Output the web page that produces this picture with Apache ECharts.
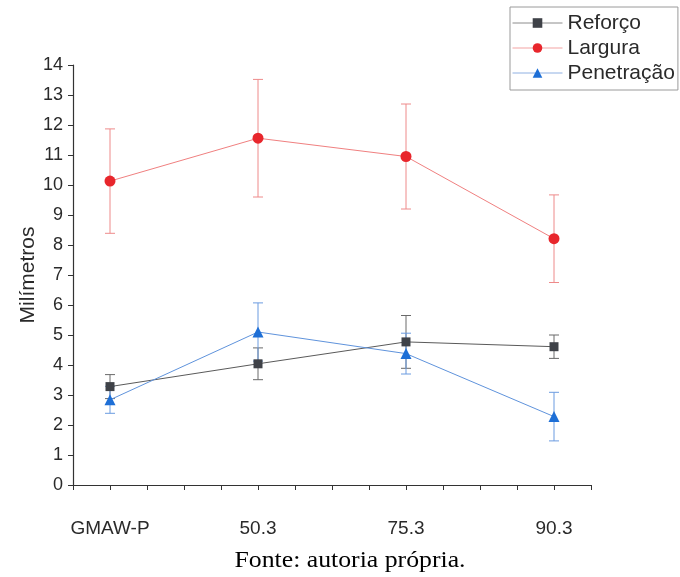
<!DOCTYPE html>
<html>
<head>
<meta charset="utf-8">
<script src="https://cdn.jsdelivr.net/npm/echarts@6/dist/echarts.min.js"></script>
<style>
  html, body { margin: 0; padding: 0; background: #fff; }
  #chart { width: 680px; height: 577px; }
</style>
</head>
<body>
<div id="chart"></div>
<script>
// Process conditions along the x axis
const categories = ['GMAW-P', '50.3', '75.3', '90.3'];

// Bead geometry in millimetres (mean values and standard deviations)
const reforco = [3.28, 4.04, 4.77, 4.61];
const reforcoErr = [0.40, 0.53, 0.88, 0.39];
const largura = [10.13, 11.56, 10.95, 8.21];
const larguraErr = [1.74, 1.96, 1.75, 1.46];
const penetracao = [2.84, 5.10, 4.38, 2.28];
const penetracaoErr = [0.45, 0.97, 0.68, 0.81];

const yTicks = [0, 14, 1]; // min, max, step

// Each category sits on an odd position of a 0..14 value axis
const xPos = categories.map((c, i) => 1 + 4 * i);

const FONT = '"Liberation Sans", Arial, sans-serif';

function pts(vals) {
  return vals.map((v, i) => [xPos[i], v]);
}
function bars(vals, errs) {
  return vals.map((v, i) => [xPos[i], v - errs[i], v + errs[i]]);
}
function errorSeries(vals, errs, color) {
  return {
    type: 'custom',
    silent: true,
    z: 1,
    data: bars(vals, errs),
    encode: { x: 0, y: [1, 2] },
    renderItem: function (params, api) {
      const x = api.value(0);
      const top = api.coord([x, api.value(2)]);
      const bot = api.coord([x, api.value(1)]);
      const w = 5;
      const st = { stroke: color, lineWidth: 1 };
      return {
        type: 'group',
        children: [
          { type: 'line', shape: { x1: top[0], y1: top[1], x2: bot[0], y2: bot[1] }, style: st },
          { type: 'line', shape: { x1: top[0] - w, y1: top[1], x2: top[0] + w, y2: top[1] }, style: st },
          { type: 'line', shape: { x1: bot[0] - w, y1: bot[1], x2: bot[0] + w, y2: bot[1] }, style: st }
        ]
      };
    }
  };
}
function lineSeries(name, vals, symbol, size, markColor, lineColor) {
  return {
    name: name,
    type: 'line',
    z: 3,
    data: pts(vals),
    symbol: symbol,
    symbolSize: size,
    itemStyle: { color: markColor, borderWidth: 0 },
    lineStyle: { color: lineColor, width: 1 },
    emphasis: { disabled: true }
  };
}

const chart = echarts.init(document.getElementById('chart'), null, { renderer: 'canvas' });
chart.setOption({
  animation: false,
  backgroundColor: '#ffffff',
  grid: { left: 73, right: 89, top: 65, bottom: 92 },
  legend: {
    orient: 'vertical',
    left: 510,
    top: 7,
    padding: [5, 3, 6, 2],
    itemWidth: 50,
    itemHeight: 12,
    itemGap: 3,
    borderColor: '#9a9a9a',
    borderWidth: 1,
    data: [
      { name: 'Reforço', lineStyle: { color: '#8c8c8c', width: 1 } },
      { name: 'Largura', lineStyle: { color: '#f3a3a3', width: 1 } },
      { name: 'Penetração', lineStyle: { color: '#8fb0e2', width: 1 } }
    ],
    textStyle: { fontFamily: FONT, fontSize: 21, color: '#2a2a2a', lineHeight: 22 }
  },
  xAxis: {
    type: 'value',
    min: 0,
    max: 14,
    interval: 1,
    splitLine: { show: false },
    axisLine: { onZero: false, lineStyle: { color: '#333', width: 1.2 } },
    axisTick: { inside: false, length: 5, lineStyle: { color: '#333' } },
    axisLabel: {
      margin: 34,
      fontFamily: FONT,
      fontSize: 19,
      color: '#2a2a2a',
      formatter: function (v) {
        const i = xPos.indexOf(v);
        return i >= 0 ? categories[i] : '';
      }
    }
  },
  yAxis: {
    type: 'value',
    min: yTicks[0],
    max: yTicks[1],
    interval: yTicks[2],
    name: 'Milímetros',
    nameLocation: 'middle',
    nameRotate: 90,
    nameGap: 34,
    nameMoveOverlap: false,
    nameTextStyle: { fontFamily: FONT, fontSize: 21, color: '#2a2a2a' },
    splitLine: { show: false },
    axisLine: { show: true, lineStyle: { color: '#333', width: 1.2 } },
    axisTick: { show: true, inside: false, length: 5, lineStyle: { color: '#333' } },
    axisLabel: { margin: 10, fontFamily: FONT, fontSize: 18, color: '#2a2a2a' }
  },
  graphic: [{
    type: 'text',
    x: 350,
    y: 561,
    scaleX: 1.12,
    style: {
      text: 'Fonte: autoria própria.',
      font: '23px "Liberation Serif", "Times New Roman", serif',
      fill: '#000',
      align: 'center',
      verticalAlign: 'middle'
    }
  }],
  series: [
    errorSeries(reforco, reforcoErr, '#6a6a6a'),
    errorSeries(largura, larguraErr, '#ee8a8a'),
    errorSeries(penetracao, penetracaoErr, '#6b9be0'),
    lineSeries('Reforço', reforco, 'rect', 9, '#3f4248', '#5a5a5a'),
    lineSeries('Largura', largura, 'circle', 11, '#e8262c', '#f08080'),
    lineSeries('Penetração', penetracao, 'triangle', 11, '#1e6fd6', '#5f93dc')
  ]
});
</script>
</body>
</html>
